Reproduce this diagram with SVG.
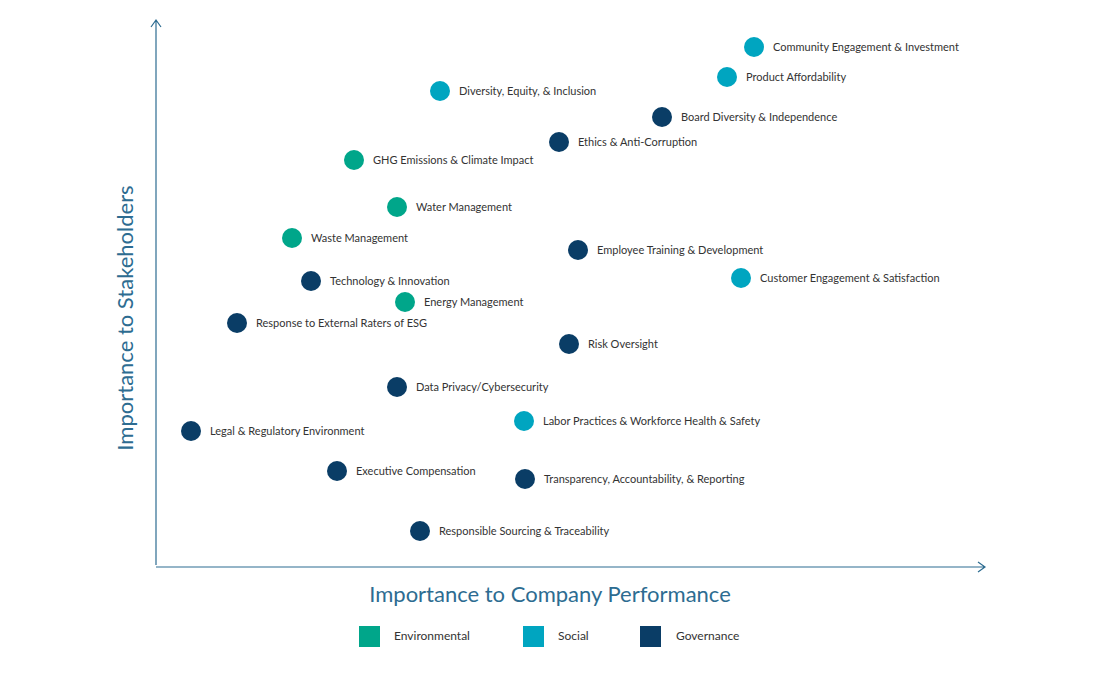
<svg xmlns="http://www.w3.org/2000/svg" width="1100" height="675" viewBox="0 0 1100 675">
<style>
text{font-family:Lato,"Open Sans",sans-serif;}
.l{font-size:11px;fill:#333;}
.e{fill:#00a68a}.s{fill:#00a5c0}.g{fill:#0a3d66}
.t{font-size:22px;fill:#2d6c91}
.lg{font-size:12px;fill:#333}
.ax{stroke:#2d6c91;stroke-width:1.2;fill:none}
</style>
<rect width="1100" height="675" fill="#fff"/>
<g id="axes">
<path class="ax" d="M156,565V20M151,27L156,20L161,27"/>
<path class="ax" d="M156,567H985M978,562L985,567L978,572"/>
<text class="t" x="550" y="602" text-anchor="middle">Importance to Company Performance</text>
<text class="t" transform="translate(133,318) rotate(-90)" text-anchor="middle">Importance to Stakeholders</text>
</g>
<g id="p1"><circle class="s" cx="754" cy="47" r="10"/><text class="l" x="773" y="51">Community Engagement &amp; Investment</text></g>
<g id="p2"><circle class="s" cx="727" cy="77" r="10"/><text class="l" x="746" y="81">Product Affordability</text></g>
<g id="p3"><circle class="s" cx="440" cy="91" r="10"/><text class="l" x="459" y="95">Diversity, Equity, &amp; Inclusion</text></g>
<g id="p4"><circle class="g" cx="662" cy="117" r="10"/><text class="l" x="681" y="121">Board Diversity &amp; Independence</text></g>
<g id="p5"><circle class="g" cx="559" cy="142" r="10"/><text class="l" x="578" y="146">Ethics &amp; Anti-Corruption</text></g>
<g id="p6"><circle class="e" cx="354" cy="160" r="10"/><text class="l" x="373" y="164">GHG Emissions &amp; Climate Impact</text></g>
<g id="p7"><circle class="e" cx="397" cy="207" r="10"/><text class="l" x="416" y="211">Water Management</text></g>
<g id="p8"><circle class="e" cx="292" cy="238" r="10"/><text class="l" x="311" y="242">Waste Management</text></g>
<g id="p9"><circle class="g" cx="578" cy="250" r="10"/><text class="l" x="597" y="254">Employee Training &amp; Development</text></g>
<g id="p10"><circle class="g" cx="311" cy="281" r="10"/><text class="l" x="330" y="285">Technology &amp; Innovation</text></g>
<g id="p11"><circle class="s" cx="741" cy="278" r="10"/><text class="l" x="760" y="282">Customer Engagement &amp; Satisfaction</text></g>
<g id="p12"><circle class="e" cx="405" cy="302" r="10"/><text class="l" x="424" y="306">Energy Management</text></g>
<g id="p13"><circle class="g" cx="237" cy="323" r="10"/><text class="l" x="256" y="327">Response to External Raters of ESG</text></g>
<g id="p14"><circle class="g" cx="569" cy="344" r="10"/><text class="l" x="588" y="348">Risk Oversight</text></g>
<g id="p15"><circle class="g" cx="397" cy="387" r="10"/><text class="l" x="416" y="391">Data Privacy/Cybersecurity</text></g>
<g id="p16"><circle class="s" cx="524" cy="421" r="10"/><text class="l" x="543" y="425">Labor Practices &amp; Workforce Health &amp; Safety</text></g>
<g id="p17"><circle class="g" cx="191" cy="431" r="10"/><text class="l" x="210" y="435">Legal &amp; Regulatory Environment</text></g>
<g id="p18"><circle class="g" cx="337" cy="471" r="10"/><text class="l" x="356" y="475">Executive Compensation</text></g>
<g id="p19"><circle class="g" cx="525" cy="479" r="10"/><text class="l" x="544" y="483">Transparency, Accountability, &amp; Reporting</text></g>
<g id="p20"><circle class="g" cx="420" cy="531" r="10"/><text class="l" x="439" y="535">Responsible Sourcing &amp; Traceability</text></g>
<g id="legend">
<rect class="e" x="359" y="626" width="21" height="21"/><text class="lg" x="394" y="640">Environmental</text>
<rect class="s" x="523" y="626" width="21" height="21"/><text class="lg" x="558" y="640">Social</text>
<rect class="g" x="640" y="626" width="21" height="21"/><text class="lg" x="676" y="640">Governance</text>
</g>
</svg>
